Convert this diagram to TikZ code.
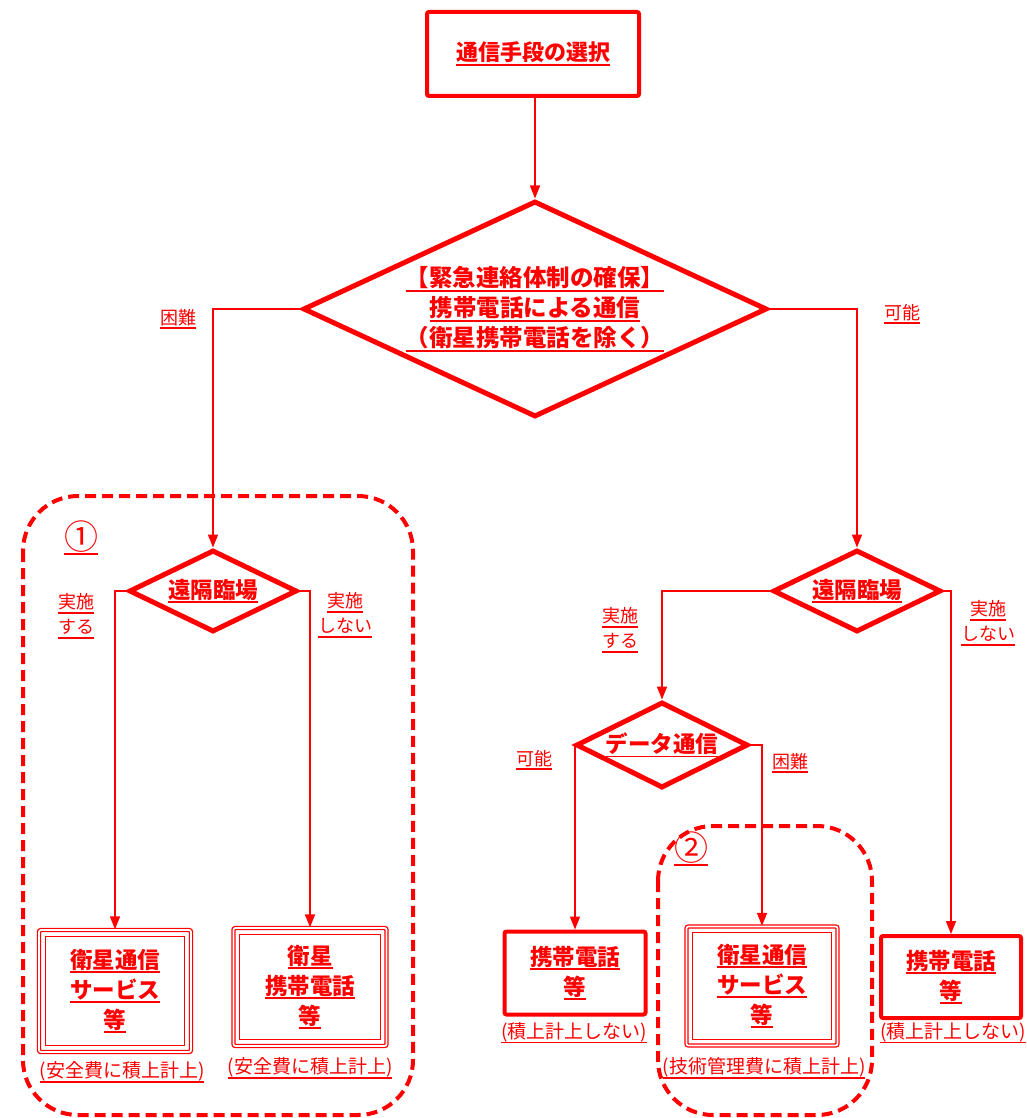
\documentclass[tikz,border=0pt]{standalone}
\usepackage{fontspec}
\newfontfamily\jp{Noto Sans CJK JP}
\usetikzlibrary{shapes.geometric,arrows.meta}
\definecolor{flowred}{RGB}{255,0,0}
\newsavebox\ulbox
\newcommand\uln[1]{\sbox\ulbox{#1}\rlap{\rule[-5pt]{\wd\ulbox}{1.8pt}}\usebox\ulbox}

\begin{document}
\begin{tikzpicture}[x=1pt, y=-1pt,
  conn/.style={draw=flowred, line width=1.6pt, -{Triangle[length=13pt,width=10pt]}},
  mainbox/.style={draw=flowred, text=flowred, fill=white, line width=4pt, rounded corners=2pt,
    align=center, inner sep=0pt, font=\jp\bfseries\fontsize{22.5}{30}\selectfont},
  satbox/.style={draw=flowred, text=flowred, fill=white, line width=1.3pt, double=white,
    double distance=1.8pt, rounded corners=2pt, align=center, inner sep=0pt,
    font=\jp\bfseries\fontsize{22.5}{30}\selectfont},
  choice/.style={diamond, draw=flowred, text=flowred, fill=white, line width=5pt, aspect=2,
    inner sep=0pt, align=center, font=\jp\bfseries\fontsize{22.5}{30}\selectfont},
  lbl/.style={text=flowred, align=center, inner sep=0pt, font=\jp\fontsize{18}{25}\selectfont},
  note/.style={text=flowred, inner sep=0pt, font=\jp\fontsize{19}{22}\selectfont},
  group/.style={draw=flowred, line width=4pt, rounded corners=55pt, dash pattern=on 11pt off 6pt},
  ]
  \useasboundingbox (0,0) rectangle (1027,1118);

  %%% dashed groups (1) and (2) %%%
  \draw[group] (23,496) rectangle (413,1115);
  \draw[group] (658,826) rectangle (872,1115);
  \node[lbl, font=\jp\fontsize{34}{34}\selectfont] (g1) at (81,538) {\uln{①}};
  \node[lbl, font=\jp\fontsize{34}{34}\selectfont] (g2) at (691,849) {\uln{②}};

  %%% top box and main decision %%%
  \node[mainbox, minimum width=212pt, minimum height=84pt, font=\jp\bfseries\fontsize{22}{30}\selectfont]
    (sel) at (533,54) {\uln{通信手段の選択}};
  \node[choice, minimum width=464pt, minimum height=216pt, font=\jp\bfseries\fontsize{23.5}{30}\selectfont]
    (dm) at (535,309)
    {\uln{【緊急連絡体制の確保】}\\\uln{携帯電話による通信}\\\uln{（衛星携帯電話を除く）}};

  %%% second level decisions %%%
  \node[choice, minimum width=168pt, minimum height=82pt] (dl) at (213,591) {\uln{遠隔臨場}};
  \node[choice, minimum width=168pt, minimum height=82pt] (dr) at (857,591) {\uln{遠隔臨場}};
  \node[choice, minimum width=172pt, minimum height=86pt] (dd) at (662,745) {\uln{データ通信}};

  %%% result boxes %%%
  \node[satbox, minimum width=152pt, minimum height=122pt] (b1) at (115,991)
    {\uln{衛星通信}\\\uln{サービス}\\\uln{等}};
  \node[satbox, minimum width=153pt, minimum height=118pt] (b2) at (310,987)
    {\uln{衛星}\\\uln{携帯電話}\\\uln{等}};
  \node[mainbox, minimum width=141pt, minimum height=83pt] (b3) at (575,973)
    {\uln{携帯電話}\\\uln{等}};
  \node[satbox, minimum width=151pt, minimum height=119pt] (b4) at (762,986)
    {\uln{衛星通信}\\\uln{サービス}\\\uln{等}};
  \node[mainbox, minimum width=140pt, minimum height=82pt] (b5) at (951,977)
    {\uln{携帯電話}\\\uln{等}};
  \foreach \bx in {b1,b2,b4}
    \draw[flowred, line width=1.2pt] ([shift={(7pt,-7pt)}]\bx.north west) rectangle ([shift={(-7pt,7pt)}]\bx.south east);

  %%% cost notes %%%
  \node[note] (c1) at (122,1072) {\uln{(安全費に積上計上)}};
  \node[note] (c2) at (310,1068) {\uln{(安全費に積上計上)}};
  \node[note] (c3) at (574,1033) {\uln{(積上計上しない)}};
  \node[note] (c4) at (764,1068) {\uln{(技術管理費に積上計上)}};
  \node[note] (c5) at (953,1033) {\uln{(積上計上しない)}};

  %%% connectors %%%
  \draw[conn] (dm.north |- sel.south) -- (dm.north);
  \draw[conn] (dm.west) -| (dl.north);
  \draw[conn] (dm.east) -| (dr.north);
  \draw[conn] (dl.west) -| (b1.north);
  \draw[conn] (dl.east) -| (b2.north);
  \draw[conn] (dr.west) -| (dd.north);
  \draw[conn] (dr.east) -| (b5.north);
  \draw[conn] (dd.west) -| (b3.north);
  \draw[conn] (dd.east) -| (b4.north);

  %%% branch labels %%%
  \node[lbl] (l1) at (178,319) {\uln{困難}};
  \node[lbl] (l2) at (902,314) {\uln{可能}};
  \node[lbl] (l3) at (76,616) {\uln{実施}\\\uln{する}};
  \node[lbl] (l4) at (345,615) {\uln{実施}\\\uln{しない}};
  \node[lbl] (l5) at (620,630) {\uln{実施}\\\uln{する}};
  \node[lbl] (l6) at (988,623) {\uln{実施}\\\uln{しない}};
  \node[lbl] (l7) at (534,760) {\uln{可能}};
  \node[lbl] (l8) at (790,763) {\uln{困難}};
\end{tikzpicture}
\end{document}
